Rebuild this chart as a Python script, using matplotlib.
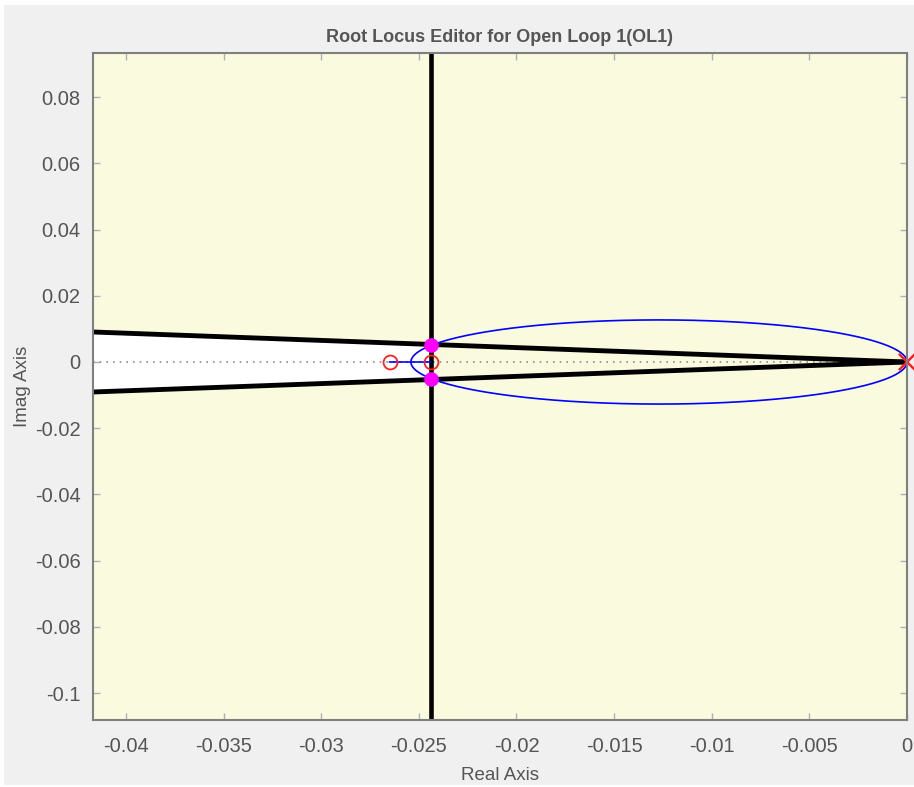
import numpy as np
import matplotlib
matplotlib.use("Agg")
import matplotlib.pyplot as plt
from matplotlib.patches import Rectangle

plt.rcParams['font.family'] = ['Liberation Sans', 'DejaVu Sans']

# Open-loop poles / zeros of the compensated loop
ol_poles = [0.0, 0.0]
ol_zeros = [-0.0244, -0.0265]

# Closed-loop poles at the current gain
cl_poles_real = [-0.0244, -0.0244]
cl_poles_imag = [0.0052, -0.0052]

# Design constraints: settling-time boundary and damping wedge slope (imag/real)
settling_real = -0.0244
wedge_slope = 0.2173

x_limits = [-0.04169, 0.0]
y_limits = [-0.1081, 0.0933]

x_ticks = [-0.04, -0.035, -0.03, -0.025, -0.02, -0.015, -0.01, -0.005, 0.0]
x_tick_labels = ['-0.04', '-0.035', '-0.03', '-0.025', '-0.02', '-0.015', '-0.01', '-0.005', '0']
y_ticks = [0.08, 0.06, 0.04, 0.02, 0.0, -0.02, -0.04, -0.06, -0.08, -0.1]
y_tick_labels = ['0.08', '0.06', '0.04', '0.02', '0', '-0.02', '-0.04', '-0.06', '-0.08', '-0.1']

TEXT = '#555555'
AXC = '#7f7f7f'

# --- root locus branches: s^2 + K (s - z1)(s - z2) = 0 ---
num = np.poly(ol_zeros)
den = np.poly(ol_poles)
z1, z2 = ol_zeros
k_break = 4 * z1 * z2 / (z1 - z2) ** 2
gains = np.unique(np.concatenate([
    np.logspace(-9, 9, 6000),
    k_break * (1 - np.logspace(-10, -0.5, 600)),
    k_break * (1 + np.logspace(-10, -0.5, 600)),
    [k_break],
]))
branch_a, branch_b = [], []
for k in gains:
    r = np.roots(den + k * num)
    r = sorted(r, key=lambda c: (round(c.imag, 12), c.real))
    branch_b.append(r[0])
    branch_a.append(r[-1])
branch_a = np.array(branch_a)
branch_b = np.array(branch_b)

fig = plt.figure(figsize=(9.14, 7.87), dpi=100, facecolor='white')
fig.patches.append(Rectangle((4 / 914, 2 / 787), 1, 1 - 7 / 787,
                             transform=fig.transFigure, facecolor='#F0F0F0',
                             edgecolor='none', zorder=-10))
ax = fig.add_axes([93 / 914, 1 - 720 / 787, 814 / 914, 667 / 787])
ax.set_facecolor('#FAFADF')

# allowed region (white) left of the settling boundary inside the damping wedge
xl = x_limits[0] - 0.01
ax.fill([settling_real, xl, xl, settling_real],
        [wedge_slope * -settling_real, wedge_slope * -xl,
         -wedge_slope * -xl, -wedge_slope * -settling_real],
        color='white', zorder=1, lw=0)

# real / imaginary axis guides
ax.axhline(0, color='#8c8c8c', ls=(0, (1, 3)), lw=1.2, zorder=2)
ax.axvline(0, color='#8c8c8c', ls=(0, (1, 3)), lw=1.2, zorder=2)

# damping wedge edges
ax.plot([0, xl], [0, wedge_slope * -xl], color='black', lw=3.5, zorder=3,
        solid_capstyle='butt')
ax.plot([0, xl], [0, -wedge_slope * -xl], color='black', lw=3.5, zorder=3,
        solid_capstyle='butt')
# settling-time boundary
ax.axvline(settling_real, color='black', lw=3.3, zorder=3)

# locus
ax.plot(branch_a.real, branch_a.imag, color='#0000FF', lw=1.2, zorder=4)
ax.plot(branch_b.real, branch_b.imag, color='#0000FF', lw=1.2, zorder=4)

# open-loop zeros and poles
ax.plot(ol_zeros, [0, 0], ls='none', marker='o', ms=10, mfc='none',
        mec='#FF2020', mew=1.3, zorder=5)
ax.plot(ol_poles, [0, 0], ls='none', marker='x', ms=11, mec='#FF2020',
        mew=1.5, zorder=5, clip_on=False)

# closed-loop poles
ax.plot(cl_poles_real, cl_poles_imag, ls='none', marker='o', ms=9.5,
        mfc='#FF00FF', mec='#FF00FF', zorder=6)

ax.set_xlim(x_limits)
ax.set_ylim(y_limits)
ax.set_xticks(x_ticks)
ax.set_xticklabels(x_tick_labels)
ax.set_yticks(y_ticks)
ax.set_yticklabels(y_tick_labels)
ax.tick_params(direction='in', length=5, width=1, color='#b0b0b0',
               labelcolor=TEXT, labelsize=14.5, top=True, right=True)
ax.tick_params(axis='x', pad=12)
ax.tick_params(axis='y', pad=9)
for sp in ax.spines.values():
    sp.set_color(AXC)
    sp.set_linewidth(1.5)
    sp.set_zorder(7)

ax.set_title('Root Locus Editor for Open Loop 1(OL1)', color=TEXT,
             fontsize=13, fontweight='bold', pad=8)
ax.set_xlabel('Real Axis', color=TEXT, fontsize=13.5, labelpad=8)
ax.set_ylabel('Imag Axis', color=TEXT, fontsize=13.5, labelpad=3)

fig.savefig('out.png', dpi=100, facecolor=fig.get_facecolor())
